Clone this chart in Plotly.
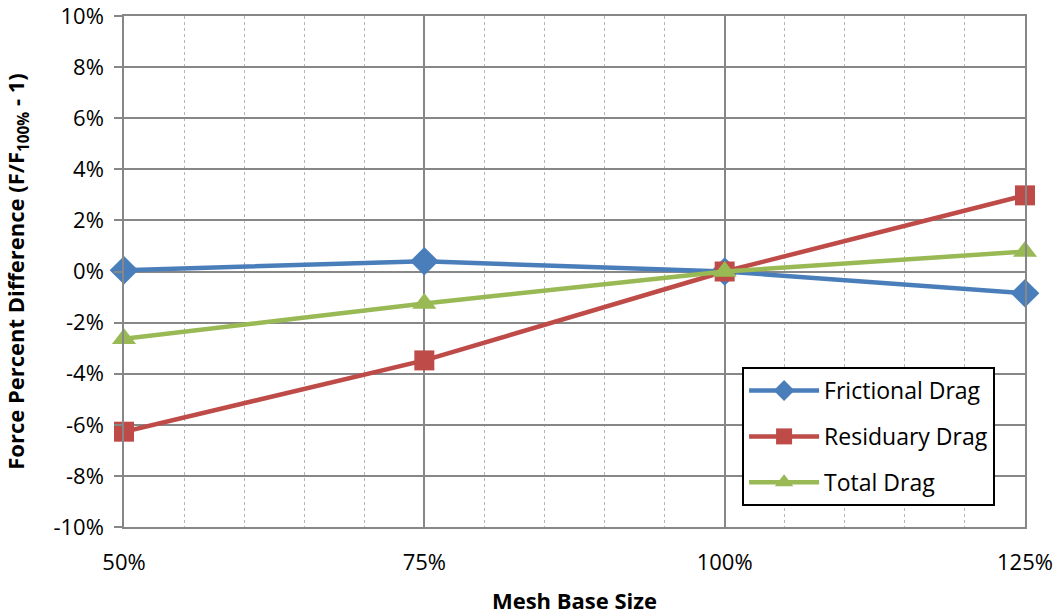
import plotly.graph_objects as go

mesh_sizes = [50, 75, 100, 125]
frictional = [0.05, 0.40, 0.0, -0.85]
residuary = [-6.27, -3.48, 0.0, 2.98]
total = [-2.63, -1.25, 0.0, 0.78]

y_ticks = list(range(-10, 11, 2))
y_labels = [f"{v}%" for v in y_ticks]
x_labels = [f"{v}%" for v in mesh_sizes]

series = [
    ("Frictional Drag", frictional, "#4A7EBB", "diamond", 22),
    ("Residuary Drag", residuary, "#BE4B48", "square", 20),
    ("Total Drag", total, "#98B954", "triangle-up", 21),
]

fig = go.Figure()
for name, vals, color, sym, sz in series:
    fig.add_trace(go.Scatter(
        x=mesh_sizes, y=vals, name=name, mode="lines+markers",
        legendgroup=name,
        line=dict(color=color, width=4.5),
        marker=dict(symbol=sym, size=sz, color=color),
        cliponaxis=False,
    ))

font_family = "Open Sans, Liberation Sans, sans-serif"

fig.update_layout(
    width=1060, height=615,
    margin=dict(l=124, r=35, t=16, b=88),
    paper_bgcolor="white", plot_bgcolor="white",
    font=dict(family=font_family, size=22, color="black"),
    showlegend=True,
    legend=dict(
        x=0.686, y=0.313, xanchor="left", yanchor="top",
        bordercolor="black", borderwidth=2, bgcolor="white",
        font=dict(size=23), tracegroupgap=13, itemwidth=70,
    ),
    xaxis=dict(
        range=[50, 125], tickvals=mesh_sizes, ticktext=x_labels,
        showgrid=True, gridcolor="#878787", gridwidth=1.5,
        showline=True, linecolor="#878787", linewidth=1.5, mirror=True,
        ticks="", ticklabelstandoff=15, automargin=False,
        ticklabeloverflow="allow",
        zeroline=False,
        minor=dict(dtick=5, showgrid=True, griddash="dot", gridcolor="#b5b5b5", gridwidth=1),
        title=dict(text="<b>Mesh Base Size</b>", font=dict(size=22), standoff=18),
        tickfont=dict(size=22),
    ),
    yaxis=dict(
        range=[-10, 10], tickvals=y_ticks, ticktext=y_labels,
        showgrid=True, gridcolor="#878787", gridwidth=1.5,
        showline=True, linecolor="#878787", linewidth=1.5, mirror=True,
        ticks="outside", ticklen=8, tickcolor="#878787", tickwidth=1.5,
        ticklabelstandoff=6, ticklabeloverflow="allow",
        zeroline=False, automargin=False,
        title=dict(text="<b>Force Percent Difference (F/F<sub>100%</sub> - 1)</b>", font=dict(size=22), standoff=23),
        tickfont=dict(size=22),
    ),
)

fig.write_html("out.html", config={"displayModeBar": False},
               post_script="document.body.style.margin='0';")
